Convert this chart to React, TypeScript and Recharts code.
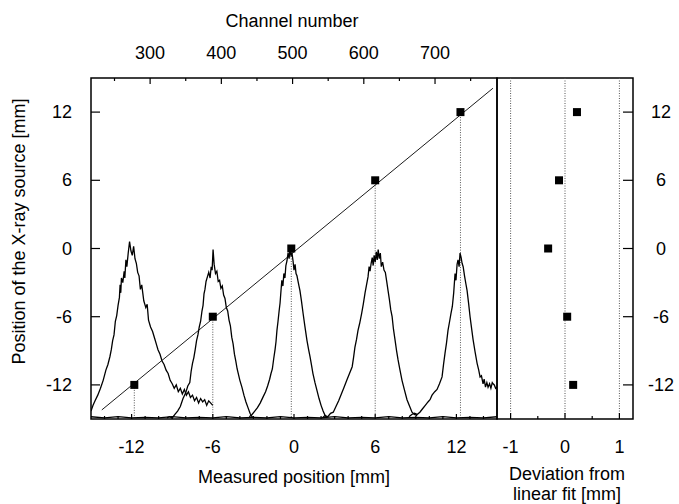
import React from 'react';
import { ComposedChart, Line, Scatter, XAxis, YAxis, ReferenceLine, ReferenceArea } from 'recharts';

const FONT = '"Liberation Sans", Arial, Helvetica, sans-serif';
const FS = 18;

// marker positions: measured position (mm) vs source position (mm)
const measuredX = [-11.8, -6.0, -0.2, 6.0, 12.3];
const sourceY = [-12, -6, 0, 6, 12];
// deviation from linear fit (mm), same order as sourceY
const deviation = [0.15, 0.04, -0.31, -0.11, 0.22];

// linear fit end points
const fitX = [-14.2, 14.7];
const fitY = [-14.2, 14.1];

// spectra, [measured mm, plotted level]
const spec1: number[][] = [
  [-15.0, -14.3], [-14.85, -13.8], [-14.7, -13.4], [-14.5, -12.9], [-14.3, -12.3], [-14.1, -11.6],
  [-13.9, -10.7], [-13.75, -10.2], [-13.6, -9.5], [-13.5, -8.9], [-13.4, -8.1], [-13.3, -7.6],
  [-13.2, -6.4], [-13.1, -5.9], [-13.0, -5.0], [-12.9, -4.3], [-12.85, -3.2], [-12.8, -3.9],
  [-12.75, -2.6], [-12.65, -3.0], [-12.55, -2.0], [-12.5, -2.6], [-12.42, -1.0], [-12.35, -1.6],
  [-12.25, -0.4], [-12.15, 0.6], [-12.05, -0.2], [-11.95, -0.6], [-11.85, 0.2], [-11.75, -0.9],
  [-11.65, -1.3], [-11.55, -2.1], [-11.45, -2.4], [-11.35, -3.6], [-11.25, -3.2], [-11.1, -4.6],
  [-10.95, -5.2], [-10.85, -4.9], [-10.75, -6.3], [-10.6, -6.9], [-10.45, -7.3], [-10.3, -7.9],
  [-10.15, -8.5], [-10.05, -8.9], [-9.9, -9.3], [-9.75, -9.9], [-9.6, -10.2], [-9.45, -10.7],
  [-9.3, -11.0], [-9.15, -11.6], [-9.0, -11.9], [-8.85, -12.3], [-8.7, -12.0], [-8.55, -12.6],
  [-8.4, -12.3], [-8.25, -12.8], [-8.1, -12.4], [-7.95, -12.9], [-7.8, -12.6], [-7.65, -13.1],
  [-7.5, -12.9], [-7.35, -13.4], [-7.2, -13.1], [-7.05, -13.6], [-6.9, -13.2], [-6.75, -13.5],
  [-6.6, -13.3], [-6.45, -13.8], [-6.3, -13.4], [-6.15, -13.6], [-6.0, -13.8],
];
const spec2: number[][] = [
  [-9.4, -14.9], [-9.2, -14.8], [-9.0, -14.9], [-8.8, -14.6], [-8.6, -14.3], [-8.4, -13.9],
  [-8.2, -13.2], [-8.0, -12.7], [-7.85, -12.1], [-7.7, -11.8], [-7.6, -10.8], [-7.5, -10.1],
  [-7.4, -9.6], [-7.3, -8.9], [-7.2, -8.1], [-7.1, -7.6], [-7.0, -6.9], [-6.9, -6.4],
  [-6.8, -5.5], [-6.72, -5.0], [-6.65, -4.0], [-6.58, -3.6], [-6.5, -2.9], [-6.4, -2.5],
  [-6.3, -2.1], [-6.2, -2.6], [-6.12, -1.6], [-6.05, -1.9], [-5.98, -0.1], [-5.9, -1.4],
  [-5.8, -2.2], [-5.7, -2.0], [-5.6, -2.9], [-5.5, -2.8], [-5.4, -3.5], [-5.3, -3.3],
  [-5.2, -4.1], [-5.1, -4.4], [-5.0, -5.2], [-4.9, -5.5], [-4.8, -6.3], [-4.7, -6.8],
  [-4.6, -7.8], [-4.5, -8.4], [-4.4, -9.3], [-4.3, -9.9], [-4.2, -10.6], [-4.1, -11.1],
  [-4.0, -11.6], [-3.85, -12.2], [-3.7, -12.9], [-3.55, -13.5], [-3.4, -14.0], [-3.25, -14.5],
  [-3.1, -14.8], [-2.95, -14.9],
];
const spec3: number[][] = [
  [-3.3, -14.8], [-3.1, -14.6], [-2.9, -14.3], [-2.7, -14.0], [-2.5, -13.6], [-2.3, -13.1],
  [-2.1, -12.6], [-1.95, -12.1], [-1.8, -11.5], [-1.7, -11.0], [-1.6, -10.6], [-1.5, -9.7],
  [-1.4, -8.9], [-1.33, -8.2], [-1.26, -7.2], [-1.18, -6.4], [-1.1, -5.5], [-1.03, -4.8],
  [-0.96, -3.7], [-0.9, -2.8], [-0.82, -3.3], [-0.75, -2.2], [-0.67, -2.6], [-0.6, -1.5],
  [-0.52, -1.1], [-0.44, -0.4], [-0.36, -0.9], [-0.3, 0.0], [-0.22, -0.6], [-0.15, -0.4],
  [-0.07, -1.1], [0.0, -1.9], [0.08, -1.4], [0.15, -2.2], [0.22, -2.4], [0.3, -2.9],
  [0.37, -3.3], [0.44, -3.7], [0.55, -4.6], [0.67, -5.7], [0.8, -6.8], [0.96, -8.1],
  [1.08, -8.9], [1.18, -9.5], [1.3, -10.3], [1.4, -11.0], [1.55, -11.8], [1.7, -12.5],
  [1.85, -13.2], [2.0, -13.8], [2.15, -14.3], [2.3, -14.7], [2.45, -14.9],
];
const spec4: number[][] = [
  [2.1, -14.9], [2.3, -14.7], [2.5, -14.8], [2.7, -14.5], [2.9, -14.4], [3.1, -13.9],
  [3.3, -13.4], [3.5, -12.8], [3.7, -12.2], [3.9, -11.6], [4.1, -11.0], [4.3, -10.4],
  [4.4, -9.6], [4.5, -8.7], [4.62, -8.0], [4.73, -7.2], [4.85, -6.6], [5.0, -5.7],
  [5.12, -4.9], [5.25, -3.9], [5.36, -3.2], [5.47, -2.5], [5.55, -1.6], [5.62, -2.0],
  [5.7, -1.3], [5.78, -0.8], [5.85, -1.5], [5.92, -0.6], [6.0, -1.2], [6.08, -0.3],
  [6.15, -1.0], [6.22, -0.1], [6.3, -0.9], [6.38, -0.4], [6.45, -1.6], [6.55, -1.2],
  [6.65, -1.9], [6.75, -2.1], [6.85, -2.9], [6.95, -3.7], [7.05, -4.5], [7.15, -5.4],
  [7.25, -6.0], [7.35, -7.1], [7.46, -8.0], [7.58, -9.0], [7.69, -9.8], [7.8, -10.5],
  [7.98, -11.6], [8.15, -12.4], [8.35, -13.3], [8.55, -13.9], [8.72, -14.4], [8.9, -14.6],
  [9.1, -14.7],
];
const spec5: number[][] = [
  [8.5, -14.8], [8.7, -14.6], [8.9, -14.5], [9.1, -14.6], [9.3, -14.4], [9.5, -14.1],
  [9.7, -13.8], [9.9, -13.5], [10.05, -13.3], [10.2, -12.9], [10.4, -12.6], [10.57, -12.4],
  [10.75, -11.9], [10.94, -11.3], [11.05, -10.2], [11.16, -9.2], [11.27, -8.3], [11.38, -7.2],
  [11.5, -6.4], [11.6, -5.7], [11.7, -5.1], [11.8, -3.9], [11.9, -2.2], [11.97, -2.8],
  [12.05, -1.4], [12.12, -1.0], [12.2, -1.6], [12.27, -0.4], [12.35, -0.8], [12.42, -1.3],
  [12.5, -1.6], [12.6, -2.4], [12.7, -3.1], [12.79, -3.7], [12.9, -4.8], [13.01, -6.0],
  [13.12, -7.0], [13.23, -8.0], [13.38, -9.1], [13.53, -10.1], [13.65, -10.7], [13.75, -11.3],
  [13.85, -11.2], [13.97, -11.9], [14.05, -11.5], [14.15, -12.2], [14.25, -11.8], [14.34, -12.2],
  [14.45, -11.9], [14.55, -12.3], [14.65, -11.8], [14.71, -11.9], [14.8, -12.0], [14.9, -12.3],
  [15.0, -12.2],
];
const baseline: number[][] = [
  [-15, -14.8], [-14, -14.9], [-13, -14.8], [-12, -14.9], [-11, -14.85], [-10, -14.9],
  [-9, -14.8], [-8, -14.9], [-7, -14.85], [-6, -14.9], [-5, -14.8], [-4, -14.9],
  [-3, -14.85], [-2, -14.9], [-1, -14.8], [0, -14.9], [1, -14.85], [2, -14.9],
  [3, -14.8], [4, -14.9], [5, -14.85], [6, -14.9], [7, -14.8], [8, -14.9],
  [9, -14.85], [10, -14.9], [11, -14.8], [12, -14.9], [13, -14.85], [14, -14.9], [15, -14.8],
];

// axis ticks
const mmTicks = [-14, -13, -12, -11, -10, -9, -8, -7, -6, -5, -4, -3, -2, -1, 0, 1, 2, 3, 4, 5, 6, 7, 8, 9, 10, 11, 12, 13, 14];
const mmMajor = [-12, -6, 0, 6, 12];
const channelTicks = [250, 300, 350, 400, 450, 500, 550, 600, 650, 700, 750];
const channelMajor = [300, 400, 500, 600, 700];
const channelRange = [217, 787];
const posTicks = [-12, -6, 0, 6, 12];
const devTicks = [-1, -0.5, 0, 0.5, 1];
const devMajor = [-1, 0, 1];
const devGrid = [-1, 0, 1];

const toPts = (arr: number[][]) => arr.map(([x, y]) => ({ x, y }));

type Side = 'top' | 'bottom' | 'left' | 'right';

function tickRenderer(side: Side, majors: number[], majorLen: number, minorLen: number, gap: number) {
  return (props: any) => {
    const { x, y, payload } = props;
    const v = payload.value;
    const major = majors.includes(v);
    const len = major ? majorLen : minorLen;
    let x2 = x, y2 = y, tx = x, ty = y;
    let anchor: 'start' | 'middle' | 'end' = 'middle';
    if (side === 'bottom') { y2 = y - len; ty = y + gap; }
    if (side === 'top') { y2 = y + len; ty = y - gap; }
    if (side === 'left') { x2 = x + len; tx = x - gap; anchor = 'end'; }
    if (side === 'right') { x2 = x - len; tx = x + gap; }
    return (
      <g>
        <line x1={x} y1={y} x2={x2} y2={y2} stroke="#000" strokeWidth={1.2} />
        {major && (
          <text x={tx} y={ty} textAnchor={anchor} dominantBaseline="central"
            fontFamily={FONT} fontSize={FS} fill="#000">{v}</text>
        )}
      </g>
    );
  };
}

const Square = (props: any) => (
  <rect x={props.cx - 4} y={props.cy - 4} width={8} height={8} fill="#000" />
);

const titleStyle = { fontFamily: FONT, fontSize: FS, fill: '#000' };

export default function App() {
  const markers = measuredX.map((x, i) => ({ x, y: sourceY[i] }));
  const devPts = deviation.map((x, i) => ({ x, y: sourceY[i] }));
  const fit = fitX.map((x, i) => ({ x, y: fitY[i] }));
  const spectra = [spec1, spec2, spec3, spec4, spec5, baseline];
  const channelEnds = channelRange.map((x) => ({ x, y: -15 }));

  return (
    <div style={{ position: 'absolute', left: 0, top: 0, width: 679, height: 504, background: '#fff', overflow: 'hidden' }}>
      <div style={{ position: 'absolute', left: 0, top: 0 }}>
        <ComposedChart width={679} height={504} margin={{ top: 0, right: 182, bottom: 0, left: 0 }}>
          <XAxis dataKey="x" type="number" domain={[-15, 15]} ticks={mmTicks} interval={0}
            height={85} axisLine={false} tickLine={false} tickSize={0} tickMargin={0}
            tick={tickRenderer('bottom', mmMajor, 5, 3, 28)} allowDataOverflow
            label={{
              content: ({ viewBox }: any) => (
                <text x={viewBox.x + viewBox.width / 2} y={viewBox.y + 58} textAnchor="middle"
                  dominantBaseline="central" {...titleStyle}>Measured position [mm]</text>
              ),
            }} />
          <XAxis xAxisId="top" dataKey="x" orientation="top" type="number" domain={channelRange}
            ticks={channelTicks} interval={0} height={78} axisLine={false} tickLine={false}
            tickSize={0} tickMargin={0} tick={tickRenderer('top', channelMajor, 6, 3, 25)} allowDataOverflow
            label={{
              content: ({ viewBox }: any) => (
                <text x={viewBox.x + viewBox.width / 2 - 2} y={21} textAnchor="middle"
                  dominantBaseline="central" {...titleStyle}>Channel number</text>
              ),
            }} />
          <YAxis dataKey="y" type="number" domain={[-15, 15]} ticks={posTicks} interval={0}
            width={91} axisLine={false} tickLine={false} tickSize={0} tickMargin={0}
            tick={tickRenderer('left', posTicks, 9, 9, 19)} allowDataOverflow
            label={{
              content: ({ viewBox }: any) => {
                const cy = viewBox.y + viewBox.height / 2 - 17;
                return (
                  <text x={19} y={cy} textAnchor="middle" dominantBaseline="central"
                    transform={`rotate(-90 19 ${cy})`} {...titleStyle}>
                    Position of the X-ray source [mm]
                  </text>
                );
              },
            }} />
          {measuredX.map((x, i) => (
            <ReferenceLine key={i} segment={[{ x, y: sourceY[i] }, { x, y: -15 }]}
              stroke="#555" strokeDasharray="1 1.5" strokeWidth={1} />
          ))}
          <Line xAxisId="top" data={channelEnds} dataKey="y" stroke="none" dot={false}
            activeDot={false} legendType="none" isAnimationActive={false} />
          {spectra.map((s, i) => (
            <Line key={i} data={toPts(s)} dataKey="y" type="linear" stroke="#000" strokeWidth={1.3}
              dot={false} isAnimationActive={false} />
          ))}
          <Line data={fit} dataKey="y" type="linear" stroke="#000" strokeWidth={0.9}
            dot={false} isAnimationActive={false} />
          <Scatter data={markers} dataKey="y" shape={Square} isAnimationActive={false} />
          <ReferenceArea x1={-15} x2={15} y1={-15} y2={15} fill="none" stroke="#000" strokeWidth={1.5} />
        </ComposedChart>
      </div>
      <div style={{ position: 'absolute', left: 0, top: 0 }}>
        <ComposedChart width={679} height={504} margin={{ top: 78, right: 0, bottom: 0, left: 497 }}>
          <XAxis dataKey="x" type="number" domain={[-1.25, 1.25]} ticks={devTicks} interval={0}
            height={85} axisLine={false} tickLine={false} tickSize={0} tickMargin={0}
            tick={tickRenderer('bottom', devMajor, 6, 3, 28)} allowDataOverflow
            label={{
              content: ({ viewBox }: any) => {
                const cx = viewBox.x + viewBox.width / 2 + 2;
                return (
                  <g>
                    <text x={cx} y={viewBox.y + 55} textAnchor="middle" dominantBaseline="central"
                      {...titleStyle}>Deviation from</text>
                    <text x={cx} y={viewBox.y + 75} textAnchor="middle" dominantBaseline="central"
                      {...titleStyle}>linear fit [mm]</text>
                  </g>
                );
              },
            }} />
          <YAxis dataKey="y" orientation="right" type="number" domain={[-15, 15]} ticks={posTicks}
            interval={0} width={46} axisLine={false} tickLine={false} tickSize={0} tickMargin={0}
            tick={tickRenderer('right', posTicks, 10, 10, 28)} allowDataOverflow />
          {devGrid.map((x) => (
            <ReferenceLine key={x} x={x} stroke="#555" strokeDasharray="1 1.5" strokeWidth={1} />
          ))}
          <Scatter data={devPts} dataKey="y" shape={Square} isAnimationActive={false} />
          <ReferenceArea x1={-1.25} x2={1.25} y1={-15} y2={15} fill="none" stroke="#000" strokeWidth={1.5} />
        </ComposedChart>
      </div>
    </div>
  );
}
